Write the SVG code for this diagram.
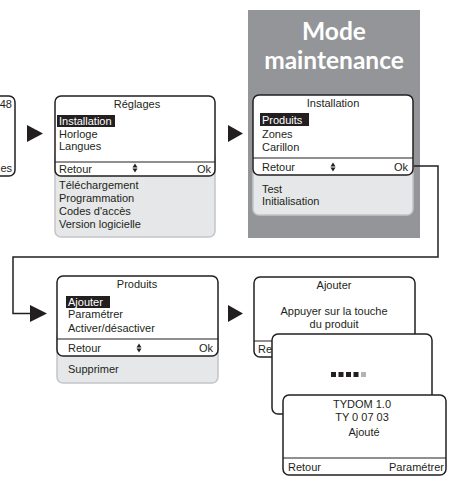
<svg xmlns="http://www.w3.org/2000/svg" width="450" height="478" viewBox="0 0 450 478">
<defs>
<style>
text{font-family:"Liberation Sans",Arial,sans-serif;font-size:11px;fill:#231f20}
.c{text-anchor:middle}
.e{text-anchor:end}
.w{fill:#ffffff}
.scr{fill:#ffffff;stroke:#231f20;stroke-width:1.5}
.ext{fill:#e6e7e8;stroke:#c4c5c7;stroke-width:1.5}
.sep{stroke:#231f20;stroke-width:1.2}
.hl{fill:#231f20}
.big{font-family:Lato,"Open Sans",sans-serif;font-weight:bold;font-size:24.5px;fill:#ffffff;text-anchor:middle}
.ar{fill:#231f20}
</style>
</defs>
<rect id="maintenance-panel" x="248" y="10" width="172" height="228" fill="#939598"/>
<text class="big" x="334" y="40">Mode</text>
<text class="big" x="334" y="69">maintenance</text>

<g id="screen-prev">
<rect class="scr" x="-20" y="96" width="35" height="80" rx="6"/>
<text class="e" x="12" y="108">48</text>
<text class="e" x="12" y="172">es</text>
</g>

<g id="screen-reglages">
<rect class="ext" x="55" y="150" width="160" height="87" rx="6"/>
<rect class="scr" x="55" y="96" width="160" height="80" rx="6"/>
<line class="sep" x1="55" y1="162" x2="215" y2="162"/>
<text class="c" x="137" y="108">Réglages</text>
<rect class="hl" x="57" y="115" width="58" height="12"/>
<text class="w" x="59" y="125">Installation</text>
<text x="59" y="138">Horloge</text>
<text x="59" y="150">Langues</text>
<text x="59" y="173">Retour</text>
<path class="ar" d="M132.5,167.5 L135,163.5 L137.5,167.5 Z M132.5,168.5 L135,172.5 L137.5,168.5 Z"/>
<text class="e" x="211" y="173">Ok</text>
<text x="59" y="189">Téléchargement</text>
<text x="59" y="202">Programmation</text>
<text x="59" y="215">Codes d'accès</text>
<text x="59" y="228">Version logicielle</text>
</g>

<g id="screen-installation">
<rect class="ext" x="253" y="150" width="160" height="65" rx="6"/>
<rect class="scr" x="253" y="95" width="160" height="80" rx="6"/>
<line class="sep" x1="253" y1="158" x2="413" y2="158"/>
<text class="c" x="333" y="107">Installation</text>
<rect class="hl" x="260" y="113" width="49" height="13"/>
<text class="w" x="262" y="124">Produits</text>
<text x="262" y="138">Zones</text>
<text x="262" y="151">Carillon</text>
<text x="262" y="171">Retour</text>
<path class="ar" d="M330.5,166.5 L333,162.5 L335.5,166.5 Z M330.5,167.5 L333,171.5 L335.5,167.5 Z"/>
<text class="e" x="408" y="171">Ok</text>
<text x="262" y="193">Test</text>
<text x="262" y="205">Initialisation</text>
</g>

<g id="screen-produits">
<rect class="ext" x="57" y="330" width="161" height="53" rx="6"/>
<rect class="scr" x="57" y="276" width="161" height="80" rx="6"/>
<line class="sep" x1="57" y1="339" x2="218" y2="339"/>
<text class="c" x="137" y="288">Produits</text>
<rect class="hl" x="66" y="296" width="44" height="12"/>
<text class="w" x="68" y="306">Ajouter</text>
<text x="68" y="318">Paramétrer</text>
<text x="68" y="332">Activer/désactiver</text>
<text x="68" y="352">Retour</text>
<path class="ar" d="M136.5,347.5 L139,343.5 L141.5,347.5 Z M136.5,348.5 L139,352.5 L141.5,348.5 Z"/>
<text class="e" x="213" y="352">Ok</text>
<text x="68" y="373">Supprimer</text>
</g>

<g id="screen-ajouter">
<rect class="scr" x="254" y="277" width="161" height="80" rx="6"/>
<line class="sep" x1="254" y1="341" x2="415" y2="341"/>
<text class="c" x="334" y="289">Ajouter</text>
<text class="c" x="334" y="315">Appuyer sur la touche</text>
<text class="c" x="334" y="328">du produit</text>
<text x="258" y="353">Retour</text>
</g>

<g id="screen-progress">
<rect class="scr" x="272" y="334" width="160" height="80" rx="6"/>
<rect class="hl" x="331" y="372" width="5" height="5"/>
<rect class="hl" x="338.5" y="372" width="5" height="5"/>
<rect class="hl" x="346" y="372" width="5" height="5"/>
<rect class="hl" x="353.5" y="372" width="5" height="5"/>
<rect x="361" y="372" width="5" height="5" fill="#b1b3b6"/>
</g>

<g id="screen-ajoute">
<rect class="scr" x="283" y="395" width="163" height="80" rx="6"/>
<line class="sep" x1="283" y1="458" x2="446" y2="458"/>
<text class="c" x="362" y="408">TYDOM 1.0</text>
<text class="c" x="362" y="421">TY 0 07 03</text>
<text class="c" x="364" y="436">Ajouté</text>
<text x="288" y="471">Retour</text>
<text class="e" x="444" y="471">Paramétrer</text>
</g>

<g id="connectors">
<polygon class="ar" points="27,125 43,133.5 27,142"/>
<polygon class="ar" points="228,125 243,133.5 228,142"/>
<polygon class="ar" points="228,305 243,313.5 228,322"/>
<path d="M414,166 H438 V257 H13 V313.5 H32" fill="none" stroke="#231f20" stroke-width="1.5"/>
<polygon class="ar" points="30,305 47,313.5 30,322"/>
</g>
</svg>
